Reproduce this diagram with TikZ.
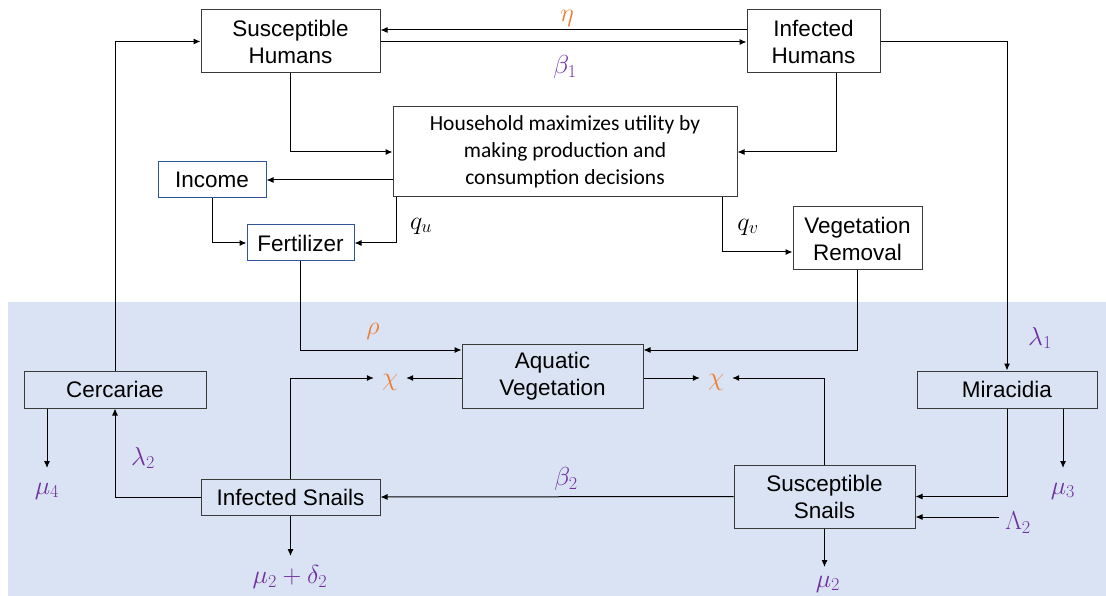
\documentclass[tikz,border=0pt]{standalone}
\usepackage{fix-cm}
\usepackage{fontspec}
\setmainfont{Liberation Sans}
\newfontfamily\calib{Carlito}
\usetikzlibrary{arrows.meta,calc}
\definecolor{bgblue}{HTML}{DAE3F3}
\definecolor{boxline}{HTML}{3A3A3A}
\definecolor{blueline}{HTML}{2F5597}
\definecolor{orng}{HTML}{ED7D31}
\definecolor{purp}{HTML}{7030A0}
\tikzset{
  box/.style={draw=boxline, line width=1pt, rectangle, align=center, inner sep=0pt, font=\fontsize{22.5}{27}\selectfont},
  bluebox/.style={box, draw=blueline},
  arr/.style={draw=black, line width=1pt, -{Latex[length=7pt,width=6pt]}},
  lab/.style={inner sep=0pt, font=\fontsize{26}{30}\selectfont},
  olab/.style={lab, text=orng},
  plab/.style={lab, text=purp},
  klab/.style={lab, text=black},
}
\begin{document}
\begin{tikzpicture}[x=1pt,y=-1pt]
\useasboundingbox (0,0) rectangle (1106,596);
\fill[bgblue] (8,302) rectangle (1106,596);
% boxes
\node[box, fill=white, minimum width=179pt, minimum height=63pt] (SH) at (290.5,41.5) {Susceptible\\Humans};
\node[box, fill=white, minimum width=133pt, minimum height=63pt] (IH) at (813.5,41.5) {Infected\\Humans};
\node[box, fill=white, minimum width=344pt, minimum height=90pt, font=\calib\fontsize{21.5}{27}\selectfont] (HH) at (565,152) {Household maximizes utility by\\making production and\\consumption decisions};
\node[bluebox, fill=white, minimum width=108pt, minimum height=36pt] (Inc) at (212,180) {Income};
\node[bluebox, fill=white, minimum width=107pt, minimum height=36pt] (Fert) at (300.5,243) {Fertilizer};
\node[box, fill=white, minimum width=129pt, minimum height=63pt] (VR) at (857.5,238.5) {Vegetation\\Removal};
\node[box, minimum width=181pt, minimum height=64pt] (AV) at (552.5,376) {Aquatic\\Vegetation};
\node[box, minimum width=182pt, minimum height=37pt] (Cerc) at (115,389.5) {Cercariae};
\node[box, minimum width=180pt, minimum height=37pt] (Mira) at (1007,389.5) {Miracidia};
\node[box, minimum width=179pt, minimum height=36pt] (IS) at (290.5,497) {Infected Snails};
\node[box, minimum width=181pt, minimum height=63pt] (SS) at (824.5,496.5) {Susceptible\\Snails};
% labels
\node[olab] (eta) at (567,18) {$\eta$};
\node[plab] (b1) at (565,67) {$\beta_1$};
\node[klab] (qu) at (421,226) {$q_u$};
\node[klab] (qv) at (748,227) {$q_v$};
\node[olab] (rho) at (373,331) {$\rho$};
\node[olab] (chiL) at (390,382) {$\chi$};
\node[olab] (chiR) at (716,382) {$\chi$};
\node[plab] (l1) at (1040,338) {$\lambda_1$};
\node[plab] (l2) at (143,458) {$\lambda_2$};
\node[plab] (b2) at (566,479) {$\beta_2$};
\node[plab] (mu4) at (47,491) {$\mu_4$};
\node[plab] (mu3) at (1063,491) {$\mu_3$};
\node[plab] (Lam) at (1018,523) {$\Lambda_2$};
\node[plab] (mu2a) at (290,577) {$\mu_2+\delta_2$};
\node[plab] (mu2b) at (828,584) {$\mu_2$};
% connectors
\draw[arr] (IH.west |- 0,30) -- (SH.east |- 0,30);
\draw[arr] (SH.east |- 0,42) -- (IH.west |- 0,42);
\draw[arr] (SH.south) |- (HH.west);
\draw[arr] ([xshift=23pt]IH.south) |- (HH.east);
\draw[arr] (HH.west |- Inc.east) -- (Inc.east);
\draw[arr] ([xshift=4pt]HH.south west) |- (Fert.east);
\draw[arr] (Inc.south) |- (Fert.west);
\draw[arr] ([xshift=-15pt]HH.south east) |- (VR.west |- 0,252);
\draw[arr] (Fert.south) |- (AV.west |- 0,350);
\draw[arr] (VR.south) |- (AV.east |- 0,350);
\draw[arr] (AV.west |- 0,378) -- ($(chiL.east |- 0,378)+(8,0)$);
\draw[arr] (IS.north) |- ($(chiL.west |- 0,378)+(-8,0)$);
\draw[arr] (AV.east |- 0,378) -- ($(chiR.west |- 0,378)+(-8,0)$);
\draw[arr] (SS.north) |- ($(chiR.east |- 0,378)+(8,0)$);
\draw[arr] (Cerc.north) |- (SH.west);
\draw[arr] (IH.east) -| (Mira.north);
\draw[arr] (Mira.south -| mu3) -- (mu3 |- 0,468);
\draw[arr] (Mira.south) |- (SS.east);
\draw[arr] ($(Lam.west |- 0,517)+(-6,0)$) -- (SS.east |- 0,517);
\draw[arr] (SS.south) -- (SS.south |- 0,567);
\draw[arr] (SS.west) -- (IS.east);
\draw[arr] (IS.west) -| (Cerc.south);
\draw[arr] (Cerc.south -| mu4) -- (mu4 |- 0,468);
\draw[arr] (IS.south) -- (IS.south |- 0,556);
\end{tikzpicture}
\end{document}
